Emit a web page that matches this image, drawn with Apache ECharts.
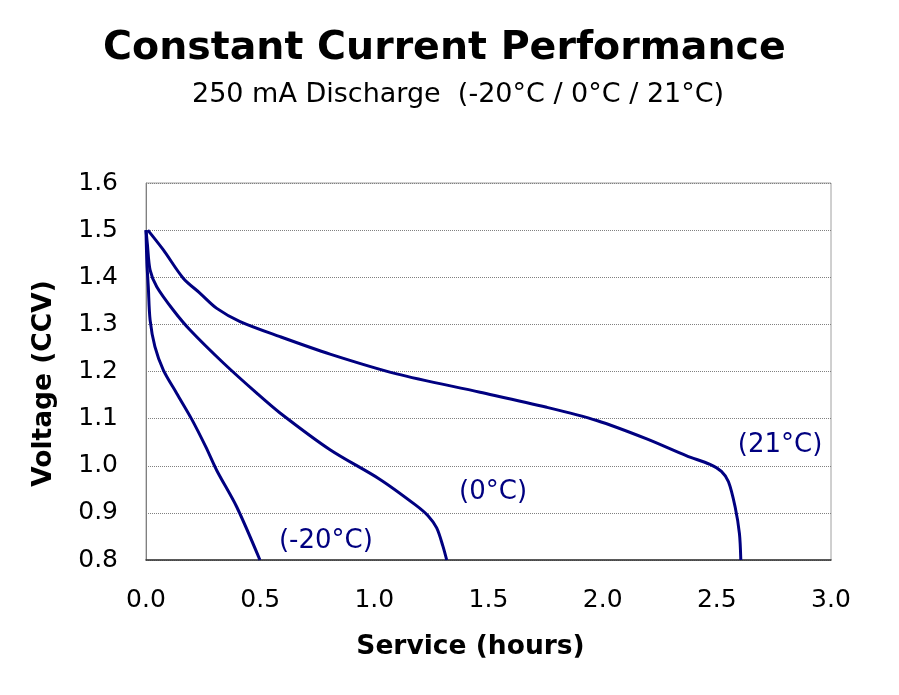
<!DOCTYPE html>
<html><head><meta charset="utf-8">
<script src="https://cdn.jsdelivr.net/npm/echarts@6/dist/echarts.min.js"></script>
<style>html,body{margin:0;padding:0;background:#fff}#c{width:899px;height:695px}</style>
</head><body><div id="c"></div>
<script>
const titleText = "Constant Current Performance";
const subtitleText = "250 mA Discharge  (-20°C / 0°C / 21°C)";
const xTicks = [0.0, 0.5, 1.0, 1.5, 2.0, 2.5, 3.0];
const yTicks = [0.8, 0.9, 1.0, 1.1, 1.2, 1.3, 1.4, 1.5, 1.6];
const curve21 = [[0.008,1.50],[0.076,1.458],[0.163,1.398],[0.237,1.366],[0.31,1.334],[0.412,1.306],[0.587,1.274],[0.806,1.237],[1.098,1.195],[1.463,1.156],[1.755,1.124],[1.974,1.096],[2.193,1.057],[2.368,1.021],[2.47,1.003],[2.52,0.988],[2.551,0.966],[2.58,0.913],[2.599,0.856],[2.605,0.80]];
const curve0 = [[0.0,1.50],[0.006,1.47],[0.018,1.415],[0.047,1.38],[0.12,1.33],[0.193,1.288],[0.339,1.218],[0.485,1.154],[0.587,1.112],[0.806,1.034],[1.025,0.971],[1.18,0.917],[1.235,0.894],[1.273,0.868],[1.30,0.83],[1.317,0.80]];
const curveM20 = [[0.0,1.50],[0.004,1.43],[0.01,1.38],[0.018,1.309],[0.039,1.253],[0.076,1.203],[0.134,1.154],[0.2,1.099],[0.262,1.04],[0.31,0.99],[0.397,0.913],[0.499,0.80]];
const labels = ["(21°C)", "(0°C)", "(-20°C)"];
const labelPos = [[2.777,1.044],[1.52,0.944],[0.788,0.840]];

const font = "DejaVu Sans";
const navy = "#000080";
const chart = echarts.init(document.getElementById('c'));
function mk(name, data, lbl, pos){
  return {type:'line', name, data, smooth:0.3, showSymbol:false, symbol:'none',
    lineStyle:{color:navy, width:3}, silent:true,
    markPoint:{symbol:'circle', symbolSize:0, silent:true,
      data:[{coord:pos, label:{show:true, formatter:lbl, color:navy, fontFamily:font, fontSize:26, position:'inside'}}]}};
}
chart.setOption({
  animation:false,
  title:[{text:titleText, left:98, top:24, textStyle:{fontFamily:font, fontWeight:'bold', fontSize:39.5, color:'#000'}},
         {text:subtitleText, left:187, top:76, textStyle:{fontFamily:font, fontWeight:'normal', fontSize:27, color:'#000'}}],
  grid:{left:146, right:68, top:183, bottom:135, show:true, borderColor:'#a0a0a0', borderWidth:1},
  xAxis:{type:'value', min:0, max:3, interval:0.5, name:'Service (hours)', nameLocation:'middle', nameGap:74,
    nameTextStyle:{fontFamily:font, fontWeight:'bold', fontSize:26.5, color:'#000', padding:[0,36,0,0]},
    axisLine:{show:true, lineStyle:{color:'#333', width:1.5}}, axisTick:{show:false},
    axisLabel:{fontFamily:font, fontSize:25, color:'#000', margin:28, formatter:v=>v.toFixed(1)},
    splitLine:{show:false}},
  yAxis:{type:'value', min:0.8, max:1.6, interval:0.1, name:'Voltage (CCV)', nameLocation:'middle', nameGap:88, nameRotate:90,
    nameTextStyle:{fontFamily:font, fontWeight:'bold', fontSize:26.5, color:'#000', padding:[0,24,0,0]},
    axisLine:{show:true, lineStyle:{color:'#808080', width:1}}, axisTick:{show:false},
    axisLabel:{fontFamily:font, fontSize:25, color:'#000', margin:28, formatter:v=>v.toFixed(1)},
    splitLine:{show:true, lineStyle:{color:'#808080', width:1, type:[1,1]}}},
  series:[mk('21', curve21, labels[0], labelPos[0]), mk('0', curve0, labels[1], labelPos[1]), mk('-20', curveM20, labels[2], labelPos[2])]
});
</script></body></html>
